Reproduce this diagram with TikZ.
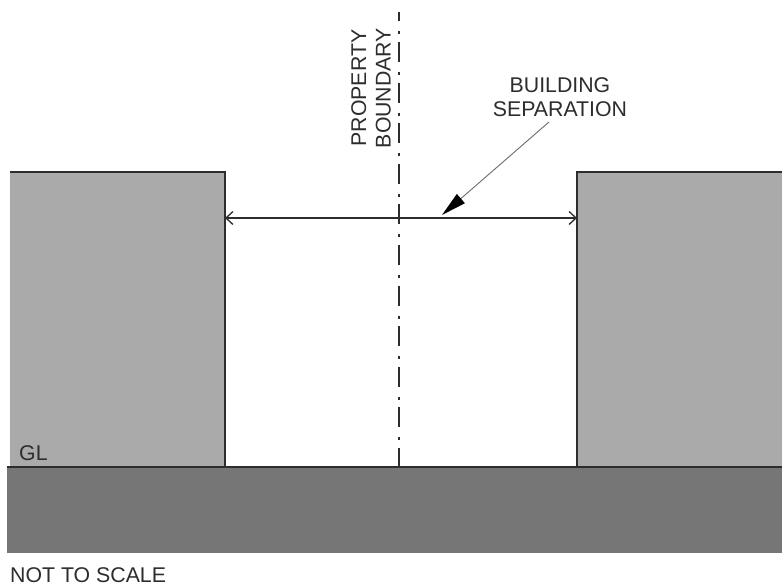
\documentclass[tikz,border=0pt]{standalone}
\usepackage{fontspec}
\setmainfont{Liberation Sans}
\usetikzlibrary{arrows.meta}
\definecolor{bldg}{RGB}{170,170,170}
\definecolor{earth}{RGB}{118,118,118}
\definecolor{ink}{RGB}{45,45,45}
\tikzset{
  x=1pt,y=-1pt,
  outline/.style={draw=ink,line width=1.5pt},
  labeltext/.style={inner sep=0pt,text=ink,font=\fontsize{21.3}{24.5}\selectfont},
  stacked/.style={labeltext,align=center},
  openhead/.style={{Straight Barb[length=7pt,width=13pt,line width=1.3pt]}-{Straight Barb[length=7pt,width=13pt,line width=1.3pt]}},
}
\begin{document}
\begin{tikzpicture}
\useasboundingbox (0,0) rectangle (782,585);
\fill[white] (0,0) rectangle (782,585);
% buildings
\fill[bldg] (10,172) rectangle (225,467);
\fill[bldg] (577,172) rectangle (782,467);
\fill[earth] (7,467) rectangle (782,553);
\draw[outline] (10,172) -- (225,172) -- (225,467);
\draw[outline] (782,172) -- (577,172) -- (577,467);
\draw[outline] (7,467) -- (782,467);
% coordinates
\coordinate (dimL) at (225,218);
\coordinate (dimR) at (577,218);
\coordinate (pbTop) at (399,12);
\coordinate (pbBot) at (399,467);
\coordinate (tip) at (442,215);
\coordinate (lead) at (549,122);
% property boundary
\draw[ink,line width=1.5pt,dash pattern=on 20pt off 10pt on 3pt off 7.6pt,dash phase=10.6pt] (pbTop) -- (pbBot);
% dimension
\draw[ink,line width=1.3pt,openhead] (dimL) -- (dimR);
% labels
\node[stacked,rotate=90] (pb) at (371,88) {PROPERTY\\BOUNDARY};
\node[stacked] (sep) at (560,97) {BUILDING\\SEPARATION};
\node[labeltext,anchor=base west] (gl) at (19,460) {GL};
\node[labeltext,anchor=base west] (nts) at (10,582.5) {NOT TO SCALE};
% leader
\draw[draw=ink!70,line width=0.9pt,-{Triangle[length=25pt,width=12pt,color=black]}] (lead) -- (tip);
\end{tikzpicture}
\end{document}
